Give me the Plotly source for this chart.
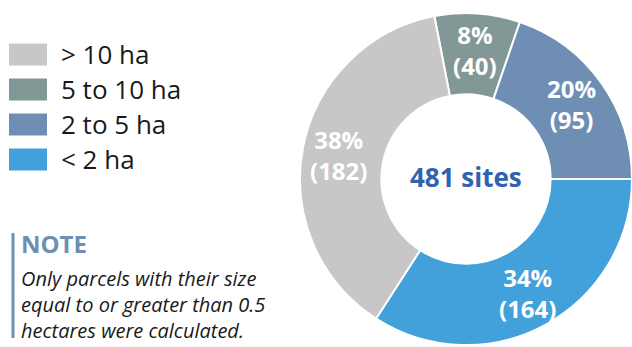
import math
import plotly.graph_objects as go

# Data
categories = ["5 to 10 ha", "2 to 5 ha", "< 2 ha", "> 10 ha"]
site_counts = [40, 95, 164, 182]
slice_colors = ["#829896", "#6E8FB3", "#42A1DB", "#C8C7C8"]

legend_labels = ["> 10 ha", "5 to 10 ha", "2 to 5 ha", "< 2 ha"]
legend_colors = ["#C8C7C8", "#829896", "#6E8FB3", "#42A1DB"]

center_label = f"{sum(site_counts)} sites"
note_title = "NOTE"
note_lines = ["Only parcels with their size", "equal to or greater than 0.5", "hectares were calculated."]

W, H = 632, 347
ROT = -11
DOM_X = [300 / W, 1.0]
DOM_Y = [0.0, (H - 11) / H]

fig = go.Figure()
fig.add_trace(go.Pie(
    labels=categories,
    values=site_counts,
    sort=False,
    direction="clockwise",
    rotation=ROT,
    hole=0.51,
    marker=dict(colors=slice_colors, line=dict(color="white", width=2)),
    textinfo="none",
    domain=dict(x=DOM_X, y=DOM_Y),
    showlegend=False,
    hoverinfo="label+value+percent",
))

# slice labels at the mid-angle of each slice
pw, ph = (DOM_X[1] - DOM_X[0]) * W, (DOM_Y[1] - DOM_Y[0]) * H
R = min(pw, ph) / 2
cx = (DOM_X[0] + DOM_X[1]) / 2 * W
cy = H - (DOM_Y[0] + DOM_Y[1]) / 2 * H  # from top
total = sum(site_counts)
cum = 0
for v in site_counts:
    mid = ROT + (cum + v / 2) / total * 360
    cum += v
    a = math.radians(mid)
    rr = R * 0.78
    px = cx + rr * math.sin(a)
    py = cy - rr * math.cos(a)
    fig.add_annotation(x=px / W, y=(H - py) / H, xref="paper", yref="paper",
                       text=f"<b>{round(v / total * 100)}%<br>({v})</b>", showarrow=False,
                       xanchor="center", yanchor="middle",
                       font=dict(family="Open Sans", size=24, color="white"))

# center text
fig.add_annotation(
    x=cx / W, y=(H - 177) / H, xref="paper", yref="paper",
    text=f"<b>{center_label}</b>", showarrow=False,
    font=dict(family="Open Sans", size=26, color="#2F63AE"),
    xanchor="center", yanchor="middle",
)

# custom legend
row_centers = [54.5, 89.5, 124.5, 159.5]
for lab, col, yc in zip(legend_labels, legend_colors, row_centers):
    fig.add_shape(type="rect", xref="paper", yref="paper",
                  x0=9 / W, x1=47 / W, y0=(H - yc - 11) / H, y1=(H - yc + 11) / H,
                  fillcolor=col, line=dict(width=0))
    fig.add_annotation(x=59 / W, y=(H - yc) / H, xref="paper", yref="paper",
                       text=lab, showarrow=False, xanchor="left", yanchor="middle",
                       font=dict(family="Open Sans", size=26, color="#1a1a1a"))

# note
fig.add_shape(type="line", xref="paper", yref="paper",
              x0=13 / W, x1=13 / W, y0=(H - 338) / H, y1=(H - 233) / H,
              line=dict(color="#6E8FB3", width=3))
fig.add_annotation(x=19 / W, y=(H - 243) / H, xref="paper", yref="paper",
                   text=f"<b>{note_title}</b>", showarrow=False, xanchor="left", yanchor="middle",
                   font=dict(family="Open Sans", size=24, color="#6E8FB3"))
fig.add_annotation(x=19 / W, y=(H - 304) / H, xref="paper", yref="paper",
                   text="<i>" + "<br>".join(note_lines) + "</i>", showarrow=False,
                   xanchor="left", yanchor="middle", align="left",
                   font=dict(family="Open Sans", size=20, color="#1a1a1a"))

fig.update_layout(
    width=W, height=H,
    margin=dict(l=0, r=0, t=0, b=0),
    paper_bgcolor="white", plot_bgcolor="white",
)

fig.write_html("out.html")
